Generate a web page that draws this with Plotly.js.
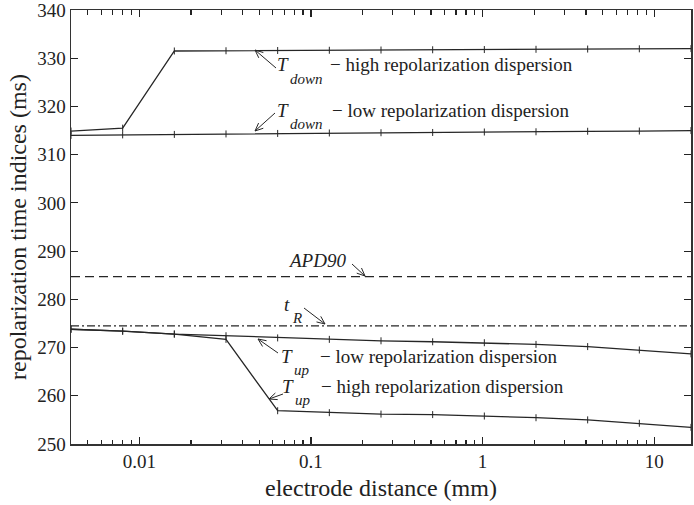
<!DOCTYPE html>
<html>
<head>
<meta charset="utf-8">
<script src="https://cdn.plot.ly/plotly-3.0.1.min.js"></script>
<style>html,body{margin:0;padding:0;background:#fff;} #chart{width:694px;height:505px;}</style>
</head>
<body>
<div id="chart"></div>
<script>
// electrode distance (mm)
var distance = [0.004, 0.008, 0.016, 0.032, 0.064, 0.128, 0.256, 0.512, 1.024, 2.048, 4.096, 8.192, 16.384];
// repolarization time indices (ms)
var tDownHigh = [314.9, 315.5, 331.5, 331.55, 331.6, 331.65, 331.7, 331.75, 331.8, 331.85, 331.9, 331.95, 332.0];
var tDownLow  = [314.0, 314.1, 314.2, 314.3, 314.4, 314.5, 314.55, 314.6, 314.7, 314.75, 314.85, 314.9, 315.0];
var apd90     = [284.7, 284.7, 284.7, 284.7, 284.7, 284.7, 284.7, 284.7, 284.7, 284.7, 284.7, 284.7, 284.7];
var tR        = [274.5, 274.5, 274.5, 274.5, 274.5, 274.5, 274.5, 274.5, 274.5, 274.5, 274.5, 274.5, 274.5];
var tUpLow    = [273.8, 273.4, 272.8, 272.45, 272.0, 271.7, 271.4, 271.2, 271.0, 270.65, 270.2, 269.5, 268.7];
var tUpHigh   = [273.8, 273.4, 272.8, 271.7, 256.9, 256.5, 256.2, 256.1, 255.8, 255.45, 255.0, 254.3, 253.45];
var yTickVals = [250, 260, 270, 280, 290, 300, 310, 320, 330, 340];

var LC = '#262626';
var FONT = 'Liberation Serif';
var TC = '#222';

var xMin = distance[0], xMax = distance[distance.length - 1];
var lMin = Math.log10(xMin), lMax = Math.log10(xMax);

function solid(y) {
  return {x: distance, y: y, type: 'scatter', mode: 'lines+markers',
    line: {color: LC, width: 1.3},
    marker: {symbol: 'line-ns', size: 5, color: LC, line: {width: 1, color: LC}},
    hoverinfo: 'skip'};
}
var traces = [
  solid(tDownHigh), solid(tDownLow), solid(tUpLow), solid(tUpHigh),
  {x: distance, y: apd90, type: 'scatter', mode: 'lines', line: {color: LC, width: 1.3, dash: '9px,5px'}},
  {x: distance, y: tR, type: 'scatter', mode: 'lines', line: {color: LC, width: 1.2, dash: '8px,3px,2px,3px'}}
];

var L = 71, R = 691, T = 10, B = 444;
function PX(px) { return (px - L) / (R - L); }
function PY(py) { return (B - py) / (B - T); }
var shapes = [];
function arrow(hx, hy, tx, ty) {
  shapes.push({type: 'line', xref: 'paper', yref: 'paper', x0: PX(tx), y0: PY(ty), x1: PX(hx), y1: PY(hy),
    line: {color: LC, width: 1}});
  var dx = hx - tx, dy = hy - ty, len = Math.sqrt(dx * dx + dy * dy);
  dx /= len; dy /= len;
  var nx = -dy, ny = dx, hl = 8, hw = 3.5;
  var p1x = hx - hl * dx + hw * nx, p1y = hy - hl * dy + hw * ny;
  var p2x = hx - hl * dx - hw * nx, p2y = hy - hl * dy - hw * ny;
  shapes.push({type: 'path', xref: 'paper', yref: 'paper',
    path: 'M' + PX(p1x) + ',' + PY(p1y) + ' L' + PX(hx) + ',' + PY(hy) + ' L' + PX(p2x) + ',' + PY(p2y),
    line: {color: LC, width: 1}});
}
function label(px, py, txt, size) {
  return {xref: 'paper', yref: 'paper', x: PX(px), y: PY(py), xanchor: 'left', yanchor: 'middle',
    text: txt, showarrow: false, borderpad: 0, font: {family: FONT, size: size || 19, color: TC}};
}
arrow(255, 50, 276, 68);
arrow(255, 131, 275, 113);
arrow(365, 276, 352, 264);
arrow(325, 324, 304, 308);
arrow(258, 339, 278, 353);
arrow(269, 399, 283, 394);
var SUB = 15;
var annotations = [
  label(276, 65, '<i>T</i>'), label(289, 79, '<i>down</i>', SUB), label(329, 65, '− high repolarization dispersion'),
  label(276, 110, '<i>T</i>'), label(289, 124, '<i>down</i>', SUB), label(331, 110, '− low repolarization dispersion'),
  label(287, 260, '<i>APD90</i>'),
  label(283, 304, '<i>t</i>'), label(291, 318, '<i>R</i>', SUB),
  label(280, 356, '<i>T</i>'), label(293, 370, '<i>up</i>', SUB), label(319, 356, '− low repolarization dispersion'),
  label(281, 386, '<i>T</i>'), label(294, 400, '<i>up</i>', SUB), label(320, 386, '− high repolarization dispersion')
];

var layout = {
  width: 694, height: 505,
  margin: {l: L, r: 694 - R, t: T, b: 505 - B},
  paper_bgcolor: '#fff', plot_bgcolor: '#fff',
  showlegend: false,
  font: {family: FONT, size: 19, color: TC},
  xaxis: {
    type: 'log', range: [lMin, lMax],
    tickmode: 'linear', tick0: 0, dtick: 1,
    ticks: 'inside', ticklen: 7, tickwidth: 1.2, tickcolor: '#222',
    minor: {ticks: 'inside', ticklen: 4.5, tickwidth: 1.2, tickcolor: '#222', dtick: 'D1', showgrid: false},
    showline: true, linecolor: '#333', linewidth: 1.5, mirror: 'allticks',
    showgrid: false, zeroline: false, ticklabeloverflow: 'allow',
    tickfont: {family: FONT, size: 19, color: TC},
    title: {text: 'electrode distance (mm)', font: {family: FONT, size: 24, color: TC}, standoff: 8}
  },
  yaxis: {
    range: [250, 340], tickmode: 'array', tickvals: yTickVals,
    ticks: 'inside', ticklen: 7, tickwidth: 1.2, tickcolor: '#222',
    showline: true, linecolor: '#333', linewidth: 1.5, mirror: 'allticks',
    showgrid: false, zeroline: false, ticklabeloverflow: 'allow',
    tickfont: {family: FONT, size: 19, color: TC},
    title: {text: 'repolarization time indices (ms)', font: {family: FONT, size: 24, color: TC}, standoff: 4}
  },
  shapes: shapes,
  annotations: annotations
};
Plotly.newPlot('chart', traces, layout, {staticPlot: true, displayModeBar: false});
</script>
</body>
</html>
